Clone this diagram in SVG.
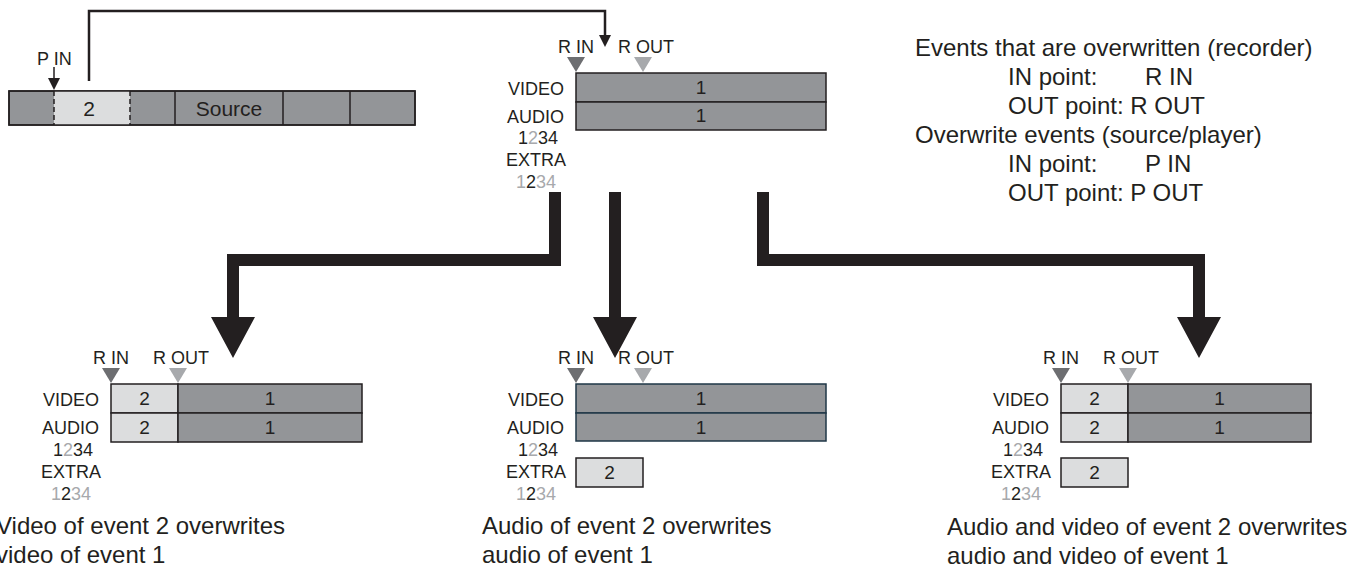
<svg xmlns="http://www.w3.org/2000/svg" width="1358" height="573" viewBox="0 0 1358 573">
<defs>
<style>
text{font-family:"Liberation Sans",Arial,sans-serif;fill:#231f20}
.lbl{font-size:18px}
.num{font-size:19px;text-anchor:middle}
.big{font-size:24px}
.g{fill:#a7a9ac}
.dk{fill:#939598;stroke:#231f20;stroke-width:1.5}
.lt{fill:#dcddde;stroke:#231f20;stroke-width:1.5}
.rin{fill:#6d6e71}
.rout{fill:#a7a9ac}
.ln{fill:none;stroke:#231f20;stroke-width:2.5}
.fat{fill:#231f20}
.r{text-anchor:end}
.m{text-anchor:middle}
</style>
<marker id="ah" markerWidth="12" markerHeight="12" refX="6" refY="12" orient="auto" markerUnits="userSpaceOnUse" viewBox="0 0 12 12">
<path d="M0,0 L12,0 L6,12 Z" fill="#231f20" transform="rotate(-90 6 6)"/>
</marker>
</defs>

<g id="source">
<rect class="dk" x="9" y="91" width="406" height="34"/>
<rect x="54" y="91" width="76" height="34" fill="#dcddde"/>
<line x1="54" y1="91" x2="54" y2="125" stroke="#231f20" stroke-width="1.5" stroke-dasharray="5,3"/>
<line x1="130" y1="91" x2="130" y2="125" stroke="#231f20" stroke-width="1.5" stroke-dasharray="5,3"/>
<line x1="175" y1="91" x2="175" y2="125" stroke="#231f20" stroke-width="1.5"/>
<line x1="283" y1="91" x2="283" y2="125" stroke="#231f20" stroke-width="1.5"/>
<line x1="350" y1="91" x2="350" y2="125" stroke="#231f20" stroke-width="1.5"/>
<rect x="9" y="91" width="406" height="34" fill="none" stroke="#231f20" stroke-width="1.5"/>
<text x="89" y="116" style="font-size:21px" class="m">2</text>
<text x="229" y="116" style="font-size:21px" class="m">Source</text>
<text x="37" y="65" class="lbl">P IN</text>
<line x1="54" y1="67" x2="54" y2="79" stroke="#231f20" stroke-width="1.5"/>
<polygon points="48,78 60,78 54,90" fill="#231f20"/>
</g>

<g id="legend">
<text class="big" x="915" y="56">Events that are overwritten (recorder)</text>
<text class="big" x="1008" y="85">IN point:<tspan x="1145">R IN</tspan></text>
<text class="big" x="1008" y="114">OUT point: R OUT</text>
<text class="big" x="915" y="143">Overwrite events (source/player)</text>
<text class="big" x="1008" y="172">IN point:<tspan x="1145">P IN</tspan></text>
<text class="big" x="1008" y="201">OUT point: P OUT</text>
</g>

<g id="recorder">
<rect class="dk" x="576" y="73" width="250" height="29"/>
<rect class="dk" x="576" y="102" width="250" height="28"/>
<text class="num" x="701" y="94">1</text>
<text class="num" x="701" y="122">1</text>
<text class="lbl" x="558" y="53">R IN</text>
<text class="lbl" x="618" y="53">R OUT</text>
<polygon class="rin" points="567,57 585,57 576,72"/>
<polygon class="rout" points="634,57 652,57 643,72"/>
<text class="lbl r" x="564" y="95">VIDEO</text>
<text class="lbl r" x="564" y="123">AUDIO</text>
<text class="lbl m" x="538" y="144">1<tspan class="g">2</tspan>34</text>
<text class="lbl m" x="536" y="166">EXTRA</text>
<text class="lbl m" x="536" y="188"><tspan class="g">1</tspan>2<tspan class="g">34</tspan></text>
</g>

<g id="result-video">
<rect class="lt" x="111" y="384" width="67" height="29"/>
<rect class="lt" x="111" y="413" width="67" height="29"/>
<rect class="dk" x="178" y="384" width="184" height="29"/>
<rect class="dk" x="178" y="413" width="184" height="29"/>
<text class="num" x="144.5" y="405">2</text>
<text class="num" x="144.5" y="434">2</text>
<text class="num" x="270" y="405">1</text>
<text class="num" x="270" y="434">1</text>
<text class="lbl" x="93" y="364">R IN</text>
<text class="lbl" x="153" y="364">R OUT</text>
<polygon class="rin" points="102,368 120,368 111,383"/>
<polygon class="rout" points="169,368 187,368 178,383"/>
<text class="lbl r" x="99" y="406">VIDEO</text>
<text class="lbl r" x="99" y="434">AUDIO</text>
<text class="lbl m" x="73" y="456">1<tspan class="g">2</tspan>34</text>
<text class="lbl m" x="71" y="478">EXTRA</text>
<text class="lbl m" x="71" y="500"><tspan class="g">1</tspan>2<tspan class="g">34</tspan></text>
<text class="big" x="-4" y="534">Video of event 2 overwrites</text>
<text class="big" x="-4" y="563">video of event 1</text>
</g>

<g id="result-audio">
<rect class="dk" x="576" y="384" width="250" height="29" style="stroke:#1f3747"/>
<rect class="dk" x="576" y="413" width="250" height="28" style="stroke:#1f3747"/>
<text class="num" x="701" y="405">1</text>
<text class="num" x="701" y="434">1</text>
<text class="lbl" x="558" y="364">R IN</text>
<text class="lbl" x="618" y="364">R OUT</text>
<polygon class="rin" points="567,368 585,368 576,383"/>
<polygon class="rout" points="634,368 652,368 643,383"/>
<text class="lbl r" x="564" y="406">VIDEO</text>
<text class="lbl r" x="564" y="434">AUDIO</text>
<text class="lbl m" x="538" y="456">1<tspan class="g">2</tspan>34</text>
<text class="lbl m" x="536" y="478">EXTRA</text>
<text class="lbl m" x="536" y="500"><tspan class="g">1</tspan>2<tspan class="g">34</tspan></text>
<rect class="lt" x="576" y="458" width="67" height="29"/>
<text class="num" x="609.5" y="479">2</text>
<text class="big" x="482" y="534">Audio of event 2 overwrites</text>
<text class="big" x="482" y="563">audio of event 1</text>
</g>

<g id="result-both">
<rect class="lt" x="1061" y="384" width="67" height="29"/>
<rect class="lt" x="1061" y="413" width="67" height="29"/>
<rect class="dk" x="1128" y="384" width="183" height="29"/>
<rect class="dk" x="1128" y="413" width="183" height="29"/>
<text class="num" x="1094.5" y="405">2</text>
<text class="num" x="1094.5" y="434">2</text>
<text class="num" x="1219.5" y="405">1</text>
<text class="num" x="1219.5" y="434">1</text>
<text class="lbl" x="1043" y="364">R IN</text>
<text class="lbl" x="1103" y="364">R OUT</text>
<polygon class="rin" points="1052,368 1070,368 1061,383"/>
<polygon class="rout" points="1119,368 1137,368 1128,383"/>
<text class="lbl r" x="1049" y="406">VIDEO</text>
<text class="lbl r" x="1049" y="434">AUDIO</text>
<text class="lbl m" x="1023" y="456">1<tspan class="g">2</tspan>34</text>
<text class="lbl m" x="1021" y="478">EXTRA</text>
<text class="lbl m" x="1021" y="500"><tspan class="g">1</tspan>2<tspan class="g">34</tspan></text>
<rect class="lt" x="1061" y="458" width="67" height="29"/>
<text class="num" x="1094.5" y="479">2</text>
<text class="big" x="947" y="535">Audio and video of event 2 overwrites</text>
<text class="big" x="947" y="564">audio and video of event 1</text>
</g>

<g id="connectors">
<polyline class="ln" points="89,81 89,11 605,11 605,36"/>
<polygon points="599,35 611,35 605,47" fill="#231f20"/>
<polygon class="fat" points="561,192 561,266 239,266 239,317 255,317 233,358 211,317 227,317 227,254 549,254 549,192"/>
<polygon class="fat" points="609,192 621,192 621,317 637,317 615,358 593,317 609,317"/>
<polygon class="fat" points="757,192 769,192 769,254 1205,254 1205,317 1221,317 1199,358 1177,317 1193,317 1193,266 757,266"/>
</g>
</svg>
